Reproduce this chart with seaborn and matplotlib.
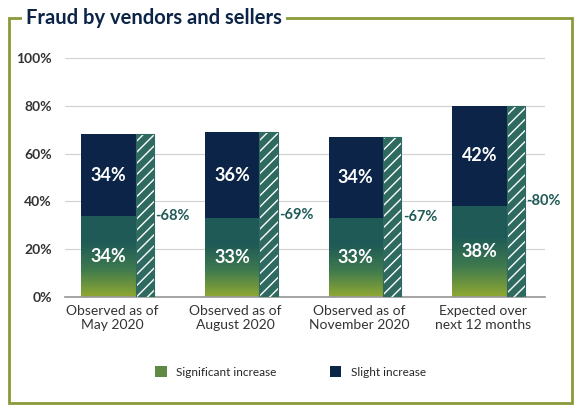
import numpy as np
import pandas as pd
import matplotlib
matplotlib.use("Agg")
import matplotlib.pyplot as plt
import seaborn as sns
from matplotlib.patches import Rectangle, Patch
from matplotlib.colors import LinearSegmentedColormap

categories = ["Observed as of\nMay 2020", "Observed as of\nAugust 2020", "Observed as of\nNovember 2020", "Expected over\nnext 12 months"]
significant = [34, 33, 33, 38]
slight = [34, 36, 34, 42]
totals = [68, 69, 67, 80]
yticks = [0, 20, 40, 60, 80, 100]

NAVY = "#0b2447"
TEAL = "#1f5a57"
GREEN = "#8fa832"
BORDER = "#8a9a3a"
cmap = LinearSegmentedColormap.from_list("g", [GREEN, "#3f7a4e", TEAL, TEAL])

sns.set_theme(style="white")
plt.rcParams['font.family'] = ['Lato', 'DejaVu Sans']

fig = plt.figure(figsize=(5.81, 4.11), dpi=100)
ax = fig.add_axes([65/581, 1-297/411, 480/581, 239/411])

df = pd.DataFrame({"cat": categories, "total": totals})
sns.barplot(data=df, x="cat", y="total", color=NAVY, width=0.44, ax=ax, saturation=1)
w_main, off = 0.44, -0.03
for i, p in enumerate(ax.patches):
    p.set_x(i + off - w_main/2); p.set_edgecolor("none")
    x0 = i + off - w_main/2
    r = Rectangle((x0, 0), w_main, significant[i], facecolor="none", edgecolor="none")
    ax.add_patch(r)
    grad = np.linspace(0, 1, 100).reshape(-1, 1)
    im = ax.imshow(grad, extent=(x0, x0 + w_main, 0, significant[i]), origin="lower",
                   cmap=cmap, aspect="auto", zorder=2)
    im.set_clip_path(r)
    ax.text(i + off, significant[i]/2, f"{significant[i]}%", color="white", ha="center",
            va="center", fontsize=13, fontweight="bold", zorder=4)
    ax.text(i + off, significant[i] + slight[i]/2, f"{slight[i]}%", color="white", ha="center",
            va="center", fontsize=13, fontweight="bold", zorder=4)
    hx = x0 + w_main
    ax.add_patch(Rectangle((hx, 0), 0.15, totals[i], facecolor="#2e6a60", edgecolor="white",
                           hatch="///", linewidth=0, zorder=3))
    ax.add_patch(Rectangle((hx, 0), 0.15, totals[i], facecolor="none", edgecolor="#2e6a60",
                           linewidth=0.8, zorder=3))
    ax.text(hx + 0.16, totals[i]/2, f"-{totals[i]}%", color=TEAL, ha="left", va="center",
            fontsize=10.5, fontweight="bold", zorder=4)

ax.set_xlim(-0.38, 3.5)
ax.set_ylim(0, 100)
ax.set_yticks(yticks)
ax.set_yticklabels([f"{v}%" for v in yticks], fontsize=10, fontweight="bold", color="#333333")
ax.set_xlabel(""); ax.set_ylabel("")
ax.tick_params(axis="x", labelsize=10, colors="#333333", length=0, pad=6)
ax.grid(axis="y", color="#d0d0d0", linewidth=0.8)
ax.set_axisbelow(True)
for s in ["top", "right", "left"]:
    ax.spines[s].set_visible(False)
ax.spines["bottom"].set_color("#999999")

lh = [Patch(facecolor="#5e8a44", edgecolor="none"), Patch(facecolor=NAVY, edgecolor="none")]
fig.legend(lh, ["Significant increase", "Slight increase"], loc="center", bbox_to_anchor=(0.5, 1-372/411),
           ncol=2, frameon=False, fontsize=8.5, handlelength=1.0, handleheight=1.0, columnspacing=4.5)

fig.patches.append(Rectangle((9/581, 8/411), 563/581, 385/411, transform=fig.transFigure,
                             fill=False, edgecolor=BORDER, linewidth=2))
fig.text(26/581, 1-18/411, "Fraud by vendors and sellers", fontsize=14.5, fontweight="bold",
         color=NAVY, va="center", ha="left",
         bbox=dict(facecolor="white", edgecolor="none", pad=3))
fig.savefig("out.png", dpi=100)
